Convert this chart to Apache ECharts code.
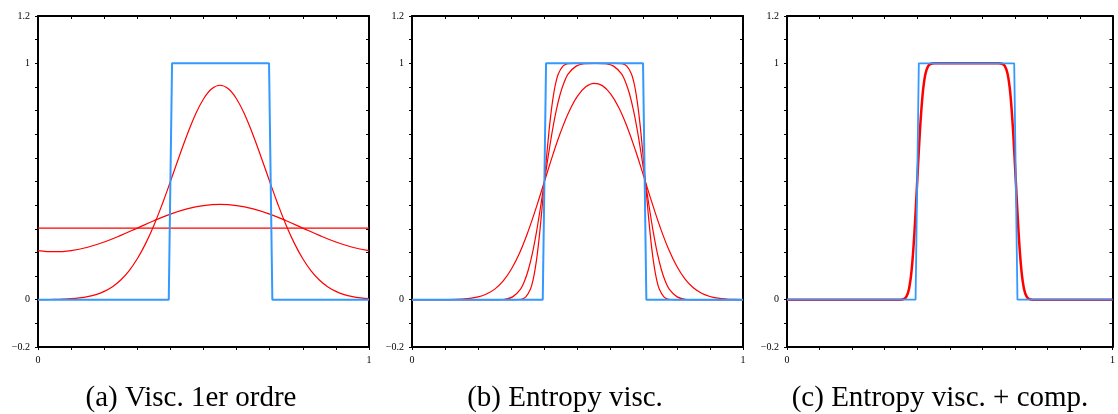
<!DOCTYPE html>
<html>
<head>
<meta charset="utf-8">
<script src="https://cdn.jsdelivr.net/npm/echarts@6/dist/echarts.min.js"></script>
<style>
html,body{margin:0;padding:0;background:#fff;}
#chart{width:1118px;height:414px;}
</style>
</head>
<body>
<div id="chart"></div>
<script>
// ---------- data ----------
const captions = ['(a) Visc. 1er ordre', '(b) Entropy visc.', '(c) Entropy visc. + comp.'];
const yTickLabels = [-0.2, 0, 1, 1.2];
const xTickLabels = [0, 1];

// exact (blue) square pulse
const pulseX = [0, 0.395, 0.405, 0.698, 0.708, 1];
const pulseY = [0, 0, 1, 1, 0, 0];

// panel (a)
const aFlatX = [0, 1];
const aFlatY = [0.303, 0.303];
const aLowX = [0,0.05,0.1,0.15,0.2,0.25,0.3,0.35,0.4,0.45,0.5,0.55,0.6,0.65,0.7,0.75,0.8,0.85,0.9,0.95,1];
const aLowY = [0.208,0.203,0.208,0.222,0.244,0.272,0.303,0.334,0.362,0.384,0.398,0.403,0.398,0.384,0.362,0.334,0.303,0.272,0.244,0.222,0.208];
const aTallX = [0,0.025,0.05,0.075,0.1,0.125,0.15,0.175,0.2,0.225,0.25,0.275,0.3,0.325,0.35,0.375,0.4,0.425,0.45,0.475,0.5,0.525,0.55,0.575,0.6,0.625,0.65,0.675,0.7,0.725,0.75,0.775,0.8,0.825,0.85,0.875,0.9,0.925,0.95,0.975,1];
const aTallY = [0.0003,0.0006,0.0012,0.0023,0.0042,0.0076,0.0131,0.0218,0.0353,0.0552,0.0835,0.1223,0.1731,0.2372,0.3143,0.4029,0.4997,0.5995,0.6958,0.7815,0.849,0.892,0.907,0.892,0.849,0.7815,0.6958,0.5995,0.4997,0.4029,0.3143,0.2372,0.1731,0.1223,0.0835,0.0552,0.0353,0.0218,0.0131,0.0076,0.0042];

// panel (b)
const bWideX = [0,0.05,0.1,0.15,0.2,0.225,0.25,0.275,0.3,0.325,0.35,0.375,0.4,0.425,0.45,0.475,0.5,0.525,0.55,0.575,0.6,0.625,0.65,0.675,0.7,0.725,0.75,0.775,0.8,0.825,0.85,0.875,0.9,0.925,0.95,0.975,1];
const bWideY = [0,0,0.0003,0.0023,0.0119,0.0239,0.0449,0.0787,0.129,0.198,0.286,0.3886,0.4998,0.6106,0.7123,0.7973,0.8609,0.9005,0.9154,0.9055,0.8707,0.8118,0.7308,0.6319,0.5222,0.4104,0.3053,0.2142,0.1412,0.0873,0.0505,0.0272,0.0137,0.0064,0.0028,0.0011,0.0004];
const bMidX = [0,0.25,0.28,0.304,0.328,0.34,0.352,0.364,0.376,0.388,0.4,0.412,0.424,0.436,0.448,0.46,0.472,0.496,0.52,0.55,0.555,0.585,0.609,0.633,0.645,0.657,0.669,0.681,0.693,0.705,0.717,0.729,0.741,0.753,0.765,0.777,0.801,0.825,0.855,1];
const bMidY = [0,0.0002,0.002,0.012,0.045,0.079,0.129,0.198,0.286,0.389,0.5,0.611,0.714,0.802,0.871,0.921,0.955,0.988,0.998,1,1,0.998,0.988,0.955,0.921,0.871,0.802,0.714,0.611,0.5,0.389,0.286,0.198,0.129,0.079,0.045,0.012,0.002,0.0002,0];
const bNarX = [0,0.3125,0.33,0.344,0.358,0.365,0.372,0.379,0.386,0.393,0.4,0.407,0.414,0.421,0.428,0.435,0.442,0.456,0.47,0.4875,0.6175,0.635,0.649,0.663,0.67,0.677,0.684,0.691,0.698,0.705,0.712,0.719,0.726,0.733,0.74,0.747,0.761,0.775,0.7925,1];
const bNarY = [0,0,0.002,0.012,0.045,0.079,0.129,0.198,0.286,0.389,0.5,0.611,0.714,0.802,0.871,0.921,0.955,0.988,0.998,1,1,0.998,0.988,0.955,0.921,0.871,0.802,0.714,0.611,0.5,0.389,0.286,0.198,0.129,0.079,0.045,0.012,0.002,0,0];

// panel (c)
const cSharpX = [0,0.337,0.3475,0.358,0.3664,0.3748,0.3832,0.3916,0.4,0.4084,0.4168,0.4252,0.4336,0.442,0.4525,0.6505,0.661,0.6694,0.6778,0.6862,0.6946,0.703,0.7114,0.7198,0.7282,0.7366,0.745,0.7555,0.766,1];
const cSharpY = [0,0,0.0002,0.0023,0.012,0.045,0.129,0.286,0.5,0.714,0.871,0.955,0.988,0.998,1,1,0.998,0.988,0.955,0.871,0.714,0.5,0.286,0.129,0.045,0.012,0.0023,0.0002,0,0];

// ---------- build chart ----------
const zip = (xs, ys) => xs.map((x, i) => [x, ys[i]]);
const BLUE = '#3399ff', RED = '#ff0000';
const FONT = '"Liberation Serif", "DejaVu Serif", serif';
const panelLeft = [38, 412, 787];
const GRID_W = 331, GRID_TOP = 16, GRID_H = 331;
const CAPTION_DX = 153;

const fmt = (list) => (v) => {
  const hit = list.find(l => Math.abs(l - v) < 1e-6);
  if (hit === undefined) return '';
  return String(hit).replace('-', '\u2212');
};

const grids = [], xAxes = [], yAxes = [], series = [], graphics = [];
const lineCommon = {type: 'line', symbol: 'none', animation: false, silent: true};

panelLeft.forEach((left, i) => {
  grids.push({left: left, top: GRID_TOP, width: GRID_W, height: GRID_H, containLabel: false});
  const axLine = {show: true, onZero: false, lineStyle: {color: '#000', width: 2}};
  xAxes.push({
    type: 'value', gridIndex: i, position: 'bottom', min: 0, max: 1, interval: 0.1,
    axisLine: axLine, splitLine: {show: false},
    axisTick: {show: true, inside: false, length: 3, lineStyle: {color: '#000', width: 1}},
    axisLabel: {show: true, margin: 8, fontFamily: FONT, fontSize: 10, color: '#000', formatter: fmt(xTickLabels), showMinLabel: true, showMaxLabel: true}
  });
  xAxes.push({
    type: 'value', gridIndex: i, position: 'top', min: 0, max: 1, interval: 0.1,
    axisLine: axLine, splitLine: {show: false},
    axisTick: {show: true, inside: true, length: 3, lineStyle: {color: '#000', width: 1}},
    axisLabel: {show: false}
  });
  yAxes.push({
    type: 'value', gridIndex: i, position: 'left', min: -0.2, max: 1.2, interval: 0.1,
    axisLine: axLine, splitLine: {show: false},
    axisTick: {show: true, inside: false, length: 3, lineStyle: {color: '#000', width: 1}},
    axisLabel: {show: true, margin: 8, fontFamily: FONT, fontSize: 10, color: '#000', formatter: fmt(yTickLabels), showMinLabel: true, showMaxLabel: true}
  });
  yAxes.push({
    type: 'value', gridIndex: i, position: 'right', min: -0.2, max: 1.2, interval: 0.1,
    axisLine: axLine, splitLine: {show: false},
    axisTick: {show: true, inside: true, length: 3, lineStyle: {color: '#000', width: 1}},
    axisLabel: {show: false}
  });
  graphics.push({
    type: 'text',
    x: left + CAPTION_DX, y: 398,
    style: {text: captions[i], fill: '#000', font: '29px ' + FONT, textAlign: 'center', textVerticalAlign: 'middle'}
  });
});

const addLine = (panel, xs, ys, color, width, z, smooth) => {
  series.push(Object.assign({}, lineCommon, {
    xAxisIndex: panel * 2, yAxisIndex: panel * 2,
    data: zip(xs, ys), smooth: smooth,
    lineStyle: {color: color, width: width}, z: z
  }));
};

// panel a
addLine(0, aFlatX, aFlatY, RED, 1.2, 2, false);
addLine(0, aLowX, aLowY, RED, 1.2, 2, 0.4);
addLine(0, aTallX, aTallY, RED, 1.2, 2, 0.4);
addLine(0, pulseX, pulseY, BLUE, 2, 3, false);
// panel b
addLine(1, bWideX, bWideY, RED, 1.2, 2, 0.4);
addLine(1, bMidX, bMidY, RED, 1.2, 2, 0.3);
addLine(1, bNarX, bNarY, RED, 1.2, 2, 0.3);
addLine(1, pulseX, pulseY, BLUE, 2, 3, false);
// panel c
addLine(2, cSharpX, cSharpY, RED, 2.5, 2, 0.3);
addLine(2, pulseX, pulseY, BLUE, 1.8, 3, false);

const chart = echarts.init(document.getElementById('chart'), null, {renderer: 'canvas'});
chart.setOption({
  animation: false,
  backgroundColor: '#fff',
  grid: grids, xAxis: xAxes, yAxis: yAxes, series: series,
  graphic: graphics
});
</script>
</body>
</html>
